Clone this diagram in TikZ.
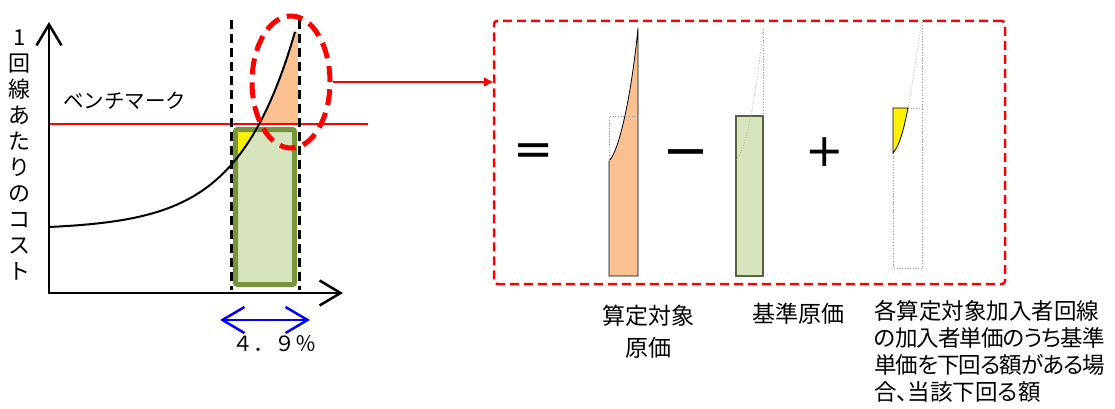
\documentclass[tikz,border=0pt]{standalone}
\usepackage{fontspec}
\newfontfamily\cjk{Noto Sans CJK JP}
\newfontfamily\cjkp[RawFeature=+palt]{Noto Sans CJK JP}
\newfontfamily\opfont{DejaVu Sans}
\usepackage{tikz}
\usetikzlibrary{arrows.meta,positioning,shapes.geometric}
\definecolor{custofill}{HTML}{FAC090}
\definecolor{basefill}{HTML}{D7E4BD}
\definecolor{baseedge}{HTML}{77933C}
\definecolor{basedark}{HTML}{566240}
\newcommand{\costy}[1]{293-(66+2.67*(exp(0.0175*((#1)-49))-1))}

\begin{document}
\begin{tikzpicture}[x=1pt, y=-1pt,
  axis/.style={line width=2.5pt, {Straight Barb[length=21pt,width=25pt]}-{Straight Barb[length=21pt,width=25pt]}},
  vcut/.style={line width=3pt, dash pattern=on 9pt off 5pt},
  ghost/.style={draw=gray!80, line width=0.7pt, dotted},
  jtxt/.style={font=\cjk\fontsize{23}{27}\selectfont, inner sep=0pt},
  optxt/.style={font=\opfont\fontsize{46}{46}\selectfont, inner sep=0pt}]
  \useasboundingbox (0,0) rectangle (1115,409);

  % left chart
  \fill[basefill] (235.5,129.5) rectangle (294.5,284.5);
  \begin{scope}
    \clip (238,132) rectangle (292,282);
    \fill[yellow] (231,100) -- plot[domain=231:262, samples=40] (\x,{\costy{\x}}) -- (262,100) -- cycle;
  \end{scope}
  \draw[baseedge, line width=5pt, rounded corners=2pt] (235.5,129.5) rectangle (294.5,284.5);
  \begin{scope}
    \clip (200,0) rectangle (298,124);
    \fill[custofill] plot[domain=240:295, samples=40] (\x,{\costy{\x}}) -- (298,32) -- (298,200) -- (240,200) -- cycle;
  \end{scope}
  \draw[red, line width=2pt] (49,124) -- (368,124);
  \draw[line width=2pt] plot[domain=49:295, samples=100, smooth] (\x,{\costy{\x}});
  \draw[vcut] (231,20) -- (231,290);
  \draw[vcut] (299,20) -- (299,290);
  \draw[axis] (49,22) -- (49,293) -- (343,293);
  \node[ellipse, draw=red, line width=5pt, dash pattern=on 16pt off 8pt,
    minimum width=78pt, minimum height=132pt, inner sep=0pt] (zoomell) at (291,82) {};

  \node[font=\cjk\fontsize{22}{26}\selectfont, align=center, anchor=north, inner sep=0pt] (ylab) at (20,30)
    {1\\回\\線\\あ\\た\\り\\の\\コ\\ス\\ト};
  \node[font=\cjk\fontsize{20.5}{20.5}\selectfont, anchor=west, inner sep=0pt] (bench) at (63,101) {ベンチマーク};

  \coordinate (wl) at (220,320);
  \coordinate (wr) at (310,320);
  \draw[blue, line width=2.5pt, {Straight Barb[length=22pt,width=26pt]}-{Straight Barb[length=22pt,width=26pt]}] (wl) -- (wr);
  \node[font=\cjk\fontsize{21}{21}\selectfont, inner sep=0pt] (pct) at (274,344) {４．９％};

  % zoomed box
  \node[draw=red, line width=2.5pt, dash pattern=on 9pt off 5pt, rounded corners=3pt,
    minimum width=511pt, minimum height=263pt, inner sep=0pt] (zoombox) at (749.5,152.5) {};
  \draw[red, line width=1.5pt, -{Triangle[length=9pt,width=9pt]}] (zoomell.east) -- (zoomell.east -| zoombox.west);

  \node[optxt, font=\opfont\fontsize{48}{48}\selectfont] (eq) at (534,155) {=};
  \node[optxt, font=\opfont\fontsize{56}{56}\selectfont] (minus) at (686,160) {−};
  \node[optxt] (plus) at (825,152) {+};

  % cost piece
  \filldraw[fill=custofill, draw=black, line width=0.8pt] (609,276) -- (609,161) .. controls (620,150) and (632,90) .. (638,28) -- (638,276) -- cycle;
  \draw[ghost] (609,161) -- (609,116) -- (638,116);
  % base piece
  \filldraw[fill=basefill, draw=basedark, line width=1.5pt] (736,116) rectangle (763,276);
  \draw[ghost] (736,160) .. controls (747,149) and (757,90) .. (763,28);
  \draw[ghost] (763,116) -- (763,28);
  % difference piece
  \draw[ghost] (893,153) -- (893,268) -- (922,268) -- (922,20);
  \draw[ghost] (908,108) -- (922,108);
  \draw[ghost] (908,108) .. controls (914,75) and (918,45) .. (922,20);
  \filldraw[fill=yellow, draw=black, line width=0.8pt] (893,108) -- (908,108) .. controls (904,128) and (900,145) .. (893,153) -- cycle;

  \node[jtxt, font=\cjk\fontsize{23}{32}\selectfont, align=center, anchor=north] (tcost) at (648,305) {算定対象\\原価};
  \node[jtxt, anchor=north] (tbase) at (798,303) {基準原価};
  \node[jtxt, font=\cjkp\fontsize{22.5}{27}\selectfont, align=left, anchor=north west] (tdiff) at (874,300)
    {各算定対象加入者回線\\{\addfontfeature{LetterSpace=-4}の加入者単価のうち基準}\\{\addfontfeature{LetterSpace=-4}単価を下回る額がある場}\\合、当該下回る額};
\end{tikzpicture}
\end{document}
